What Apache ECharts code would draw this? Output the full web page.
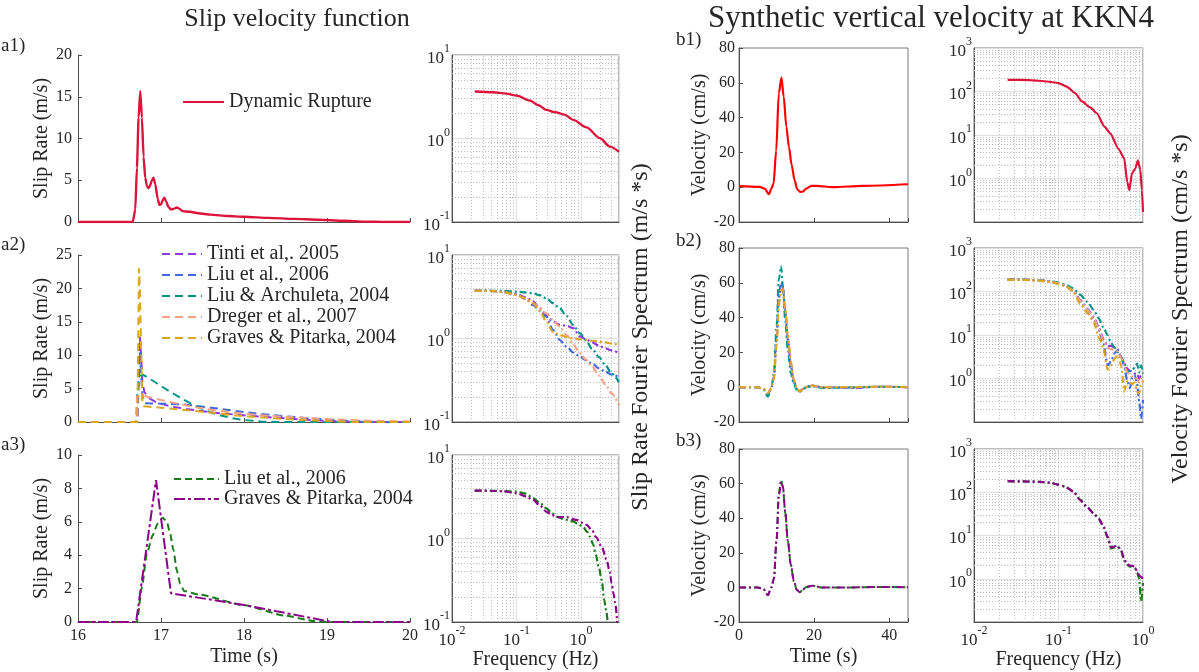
<!DOCTYPE html>
<html><head><meta charset="utf-8">
<script src="https://cdn.jsdelivr.net/npm/echarts@6/dist/echarts.min.js"></script>
<style>html,body{margin:0;padding:0;background:#fff}#c{width:1199px;height:672px}</style>
</head><body><div id="c"></div>
<script>
// ---------------- DATA ----------------
// a1: dynamic rupture slip rate
const a1Time = [16, 16.66, 16.69, 16.71, 16.73, 16.75, 16.77, 16.79, 16.81, 16.83, 16.85, 16.87, 16.89, 16.91, 16.93, 16.96, 16.98, 17.0, 17.02, 17.04, 17.06, 17.09, 17.12, 17.16, 17.19, 17.22, 17.26, 17.3, 17.35, 17.45, 17.6, 17.8, 18.0, 18.3, 18.6, 18.9, 19.2, 19.45, 19.7, 20];
const a1Rate = [0, 0, 1.5, 6.5, 12.5, 15.7, 12.5, 7.8, 5.3, 4.3, 4.05, 4.4, 5.0, 5.3, 4.6, 2.8, 2.05, 2.1, 2.6, 2.9, 2.5, 1.8, 1.5, 1.6, 1.75, 1.6, 1.3, 1.25, 1.22, 1.05, 0.88, 0.72, 0.62, 0.5, 0.38, 0.27, 0.15, 0.05, 0, 0];
const a1Freq = [0.0225, 0.0433, 0.07, 0.1, 0.161, 0.22, 0.292, 0.394, 0.564, 0.76, 1.22, 1.97, 2.82, 3.9];
const a1Spec = [3.65, 3.58, 3.45, 3.27, 2.85, 2.5, 2.2, 2.07, 1.92, 1.67, 1.36, 1.01, 0.80, 0.69];

// a2: kinematic slip-rate functions
const tintiTime = [16, 16.71, 16.725, 16.745, 16.76, 16.775, 16.8, 16.85, 16.95, 17.1, 17.3, 17.6, 17.9, 18.2, 18.5, 18.8, 19.1, 19.4, 20];
const tintiRate = [0, 0, 6, 12.8, 10, 6, 4.5, 3.6, 2.9, 2.4, 1.95, 1.45, 1.1, 0.8, 0.55, 0.3, 0.12, 0.02, 0];
const liuTime = [16, 16.715, 16.73, 16.745, 16.76, 16.78, 16.8, 17.0, 17.3, 17.6, 17.9, 18.2, 18.5, 18.8, 19.1, 19.4, 19.6, 20];
const liuRate = [0, 0, 5, 10.5, 7, 3.5, 2.8, 2.75, 2.6, 2.15, 1.65, 1.2, 0.85, 0.55, 0.3, 0.1, 0, 0];
const laTime = [16, 16.7, 16.715, 16.73, 16.75, 16.78, 16.85, 16.95, 17.1, 17.25, 17.4, 17.55, 17.7, 17.85, 18.0, 18.2, 18.4, 20];
const laRate = [0, 0, 4, 6.3, 6.9, 7.1, 6.6, 5.8, 4.6, 3.5, 2.5, 1.65, 1.05, 0.6, 0.3, 0.08, 0, 0];
const dregerTime = [16, 16.7, 16.71, 16.73, 16.8, 16.9, 17.0, 17.2, 17.4, 17.6, 17.8, 18.0, 18.3, 18.6, 18.9, 19.2, 19.5, 20];
const dregerRate = [0, 0, 3.8, 3.95, 3.9, 3.6, 3.3, 2.75, 2.25, 1.85, 1.5, 1.22, 0.92, 0.72, 0.5, 0.33, 0.2, 0.08];
const gpTime = [16, 16.715, 16.735, 16.745, 16.775, 16.79, 17.0, 17.5, 18.0, 18.5, 19.0, 19.3, 20];
const gpRate = [0, 0, 23, 20, 3, 2.35, 2.15, 1.55, 0.85, 0.45, 0.15, 0, 0];
const a2Freq = [0.0225, 0.04, 0.06, 0.1, 0.14, 0.18, 0.23, 0.29, 0.37, 0.47, 0.6, 0.76, 0.96, 1.2, 1.5, 1.9, 2.4, 3.0, 3.9];
const tintiSpec = [3.75, 3.72, 3.66, 3.42, 3.1, 2.78, 2.3, 1.92, 1.6, 1.46, 1.42, 1.33, 1.06, 0.98, 0.9, 0.82, 0.76, 0.72, 0.67];
const liuSpec = [3.75, 3.72, 3.62, 3.38, 2.95, 2.52, 2.15, 1.83, 1.27, 0.96, 0.8, 0.68, 0.61, 0.55, 0.5, 0.44, 0.4, 0.37, 0.345];
const laSpec = [3.75, 3.74, 3.72, 3.64, 3.56, 3.48, 3.3, 3.03, 2.65, 2.3, 1.85, 1.45, 1.16, 0.95, 0.75, 0.6, 0.48, 0.38, 0.30];
const dregerSpec = [3.75, 3.72, 3.62, 3.33, 3.0, 2.65, 2.3, 2.0, 1.65, 1.39, 1.1, 0.85, 0.67, 0.56, 0.46, 0.36, 0.28, 0.22, 0.158];
const gpSpec = [3.75, 3.72, 3.62, 3.33, 3.0, 2.65, 2.15, 1.6, 1.2, 1.1, 1.04, 1.0, 0.98, 0.96, 0.94, 0.92, 0.9, 0.87, 0.84];

// a3: modified functions
const a3LiuTime = [16, 16.71, 16.77, 16.83, 16.9, 16.96, 17.02, 17.07, 17.11, 17.15, 17.19, 17.23, 17.28, 17.47, 18.0, 18.5, 18.85, 19.0, 20];
const a3LiuRate = [0, 0, 2.1, 4.1, 5.2, 5.9, 6.25, 6.0, 5.3, 4.3, 3.1, 2.3, 1.85, 1.63, 1.0, 0.38, 0.05, 0, 0];
const a3GpTime = [16, 16.70, 16.94, 17.12, 18.0, 19.06, 20];
const a3GpRate = [0, 0, 8.5, 1.72, 1.02, 0, 0];
const a3LiuFreq = [0.0225, 0.04, 0.06, 0.1, 0.14, 0.18, 0.23, 0.29, 0.36, 0.42, 0.53, 0.65, 0.76, 0.9, 1.09, 1.25, 1.38, 1.55, 1.7, 1.9, 2.1, 2.3, 2.45, 2.6];
const a3LiuSpec = [3.75, 3.73, 3.7, 3.64, 3.45, 3.04, 2.7, 2.3, 2.0, 1.83, 1.72, 1.65, 1.6, 1.5, 1.36, 1.2, 1.05, 0.85, 0.64, 0.45, 0.32, 0.185, 0.14, 0.1];
const a3GpFreq = [0.0225, 0.04, 0.06, 0.1, 0.14, 0.18, 0.23, 0.29, 0.36, 0.42, 0.6, 0.85, 1.22, 1.5, 1.7, 2.1, 2.5, 2.8, 3.0, 3.2, 3.4, 3.65];
const a3GpSpec = [3.75, 3.73, 3.68, 3.48, 3.2, 2.9, 2.5, 2.1, 1.9, 1.8, 1.8, 1.67, 1.46, 1.25, 1.05, 0.8, 0.56, 0.4, 0.29, 0.22, 0.17, 0.1];

// b1: synthetic vertical velocity at KKN4 (dynamic rupture)
const b1Time = [0, 5.5, 6.8, 8.0, 8.6, 9.2, 9.9, 10.6, 11.3, 11.9, 12.6, 13.3, 14.0, 14.8, 15.5, 16.3, 17.0, 17.9, 19.3, 20.6, 25, 33, 45];
const b1Vel = [0.6, 0.2, -0.8, -4, -0.8, 2, 21, 54, 63, 52, 35, 23, 13, 4, -1.2, -2.7, -2.5, -0.8, 0.8, 0.8, 0, 0.8, 1.7];
const b1Freq = [0.025, 0.046, 0.073, 0.1, 0.125, 0.157, 0.19, 0.237, 0.284, 0.35, 0.41, 0.51, 0.6, 0.65, 0.69, 0.74, 0.81, 0.87, 0.93, 0.97, 1.0];
const b1Spec = [186, 183, 170, 156, 130, 92, 59, 43, 31.6, 15.6, 10.9, 4.9, 2.9, 0.84, 0.54, 1.3, 1.7, 2.6, 1.55, 0.54, 0.17];

// b2 / b3 velocities
const bTime = [0, 5, 6.5, 7.7, 8.6, 9.3, 10.0, 10.6, 11.2, 11.7, 12.3, 13.0, 13.8, 14.6, 15.4, 16.2, 17.0, 18, 19.5, 22, 30, 38, 45];
const b2TintiVel = [0, 0, -1, -4, -0.5, 6, 28, 52, 60, 57, 43, 27, 12, 3, -1.5, -2.5, -1, 0.3, 1, 0, -0.5, 0.3, 0];
const b2LiuVel = [0, 0, -1, -4, -0.5, 6, 27, 50, 59.5, 57.5, 44, 28, 13, 3.5, -1, -2.5, -1, 0.5, 0.8, 0, -0.3, 0.2, 0];
const b2LaVel = [0, 0, -1.5, -5.5, -0.5, 8, 35, 62, 69.5, 58, 38, 21, 8, 1.5, -1.5, -2.8, -1.5, 0, 0.5, -0.5, 0, 0.3, 0];
const b2DregerVel = [0, 0, -1, -3.5, -0.5, 5, 25, 48, 56, 55.5, 45, 29, 14, 4, -1, -2.5, -1, 0.3, 0.8, 0, 0, 0.2, 0];
const b2GpVel = [0, 0, -1, -3.5, -0.5, 5, 24, 47, 55, 56.5, 46, 30, 15, 4.5, -0.5, -2.5, -1.2, 0.3, 1.0, 0, 0, 0.4, 0];
const b3LiuVel = [0, 0, -1, -4.5, 0, 5, 28, 54, 62, 58, 43, 27, 13, 3.5, -1.5, -2.8, -1.2, 0.3, 1, 0, 0, 0.3, 0];
const b3GpVel = [0, 0, -1, -4.5, 0, 5, 27, 53, 61, 58, 44, 27, 13, 4, -1.5, -2.8, -1.2, 0.3, 1, 0, 0, 0.3, 0];

// b2 / b3 spectra
const bFreq = [0.025, 0.04, 0.06, 0.08, 0.1, 0.12, 0.15, 0.18, 0.22, 0.26, 0.3, 0.34, 0.38, 0.42, 0.46, 0.5, 0.55, 0.6, 0.65, 0.7, 0.75, 0.8, 0.85, 0.9, 0.95, 1.0];
const b2TintiSpec = [188, 186, 180, 170, 155, 138, 108, 64, 40, 26, 15, 8, 5.5, 5.6, 5.2, 4.6, 3.2, 2.2, 1.7, 1.5, 1.4, 1.3, 1.3, 1.0, 1.2, 1.1];
const b2LiuSpec = [188, 186, 180, 170, 155, 138, 105, 62, 38, 24, 13, 6.5, 2.0, 2.5, 3.8, 4.5, 3.2, 1.9, 0.9, 0.6, 1.1, 1.2, 0.8, 0.3, 0.12, 0.32];
const b2LaSpec = [190, 188, 182, 172, 160, 145, 118, 85, 58, 38, 24, 15, 10, 6.5, 5.2, 4.0, 3.1, 2.3, 1.4, 1.5, 1.6, 1.8, 2.2, 1.4, 2.0, 1.3];
const b2DregerSpec = [188, 186, 180, 170, 155, 138, 106, 62, 38, 25, 14, 7.5, 5, 4.8, 4.5, 4.2, 3.0, 2.0, 1.4, 1.2, 1.1, 1.0, 1.0, 0.8, 1.0, 0.9];
const b2GpSpec = [186, 184, 176, 165, 150, 132, 100, 52, 32, 20, 9, 5, 1.6, 2.0, 2.8, 3.5, 2.0, 0.5, 0.9, 0.8, 0.75, 0.8, 0.5, 0.45, 0.7, 0.9];
const b3LiuSpec = [180, 178, 174, 166, 150, 135, 105, 68, 45, 33, 25, 16.5, 9, 5, 5.3, 5.5, 4.5, 2.6, 2.1, 1.9, 2.0, 1.8, 1.4, 1.0, 0.3, 0.8];
const b3GpSpec = [180, 178, 174, 166, 150, 134, 103, 66, 44, 32, 24, 16, 9.5, 5.3, 5.6, 5.8, 4.6, 2.8, 2.2, 2.0, 2.0, 1.9, 1.5, 1.2, 1.1, 1.0];

// names
const nameDR = 'Dynamic Rupture';
const nameTinti = 'Tinti et al,. 2005';
const nameLiu = 'Liu et al., 2006';
const nameLA = 'Liu & Archuleta, 2004';
const nameDreger = 'Dreger et al., 2007';
const nameGP = 'Graves & Pitarka, 2004';

// ---------------- STYLE ----------------
const F = "'Liberation Serif','Times New Roman',Times,serif";
const TXT = '#262626', AX = '#4d4d4d', BOX = '#7a7a7a';
const C = {crimson:'#DC143C', red:'#FF0000', tinti:'#9038E3', liu:'#4169E1', la:'#00958A', dreger:'#F9A281', gp:'#DAA520', green:'#1A7A1A', purple:'#8B008B'};
const DASH = [8, 5], DASHDOT = [7, 3, 2, 3];

function pairs(xs, ys) { return xs.map((x, i) => [x, ys[i]]); }
function minorLog(lo, hi) {
  const out = [];
  for (let e = Math.floor(Math.log10(lo)); e <= Math.ceil(Math.log10(hi)); e++) {
    for (let m = 2; m <= 9; m++) {
      const v = +(m * Math.pow(10, e)).toPrecision(6);
      if (v > lo * 1.0001 && v < hi * 0.9999) out.push(v);
    }
  }
  return out;
}
function powLabel(hideMin) {
  return function (v) {
    const e = Math.round(Math.log10(v));
    if (Math.abs(v / Math.pow(10, e) - 1) > 1e-6) return '';
    if (hideMin !== undefined && v <= hideMin * 1.0001) return '';
    return '{b|10}{s|' + (e < 0 ? '-' + (-e) : e) + '}';
  };
}
const RICH = {
  b: {fontSize: 17, fontFamily: F, color: TXT, lineHeight: 24, verticalAlign: 'bottom'},
  s: {fontSize: 12, fontFamily: F, color: TXT, lineHeight: 10, verticalAlign: 'top'}
};
const labelStyle = {fontSize: 16, fontFamily: F, color: TXT};
const nameStyle = {fontSize: 20, fontFamily: F, color: TXT};

const layout = [
  {l: 78, t: 55, w: 332, h: 167}, {l: 452, t: 55, w: 167, h: 167},
  {l: 78, t: 255, w: 332, h: 167}, {l: 452, t: 255, w: 167, h: 167},
  {l: 78, t: 455, w: 332, h: 167}, {l: 452, t: 455, w: 167, h: 167},
  {l: 739, t: 48, w: 169, h: 174}, {l: 974, t: 48, w: 169, h: 174},
  {l: 739, t: 248, w: 169, h: 174}, {l: 974, t: 248, w: 169, h: 174},
  {l: 739, t: 449, w: 169, h: 173}, {l: 974, t: 449, w: 169, h: 173}
];
const grids = layout.map((g, i) => ({
  left: g.l, top: g.t, width: g.w, height: g.h,
  show: !(i === 0 || i === 2 || i === 4), borderColor: BOX, borderWidth: 1,
  backgroundColor: 'transparent', outerBoundsMode: 'none', containLabel: false
}));

function linAxis(gi, min, max, interval, showLabels, opts) {
  return Object.assign({
    gridIndex: gi, type: 'value', min: min, max: max, interval: interval,
    axisLine: {show: true, onZero: false, lineStyle: {color: AX, width: 1}},
    axisTick: {show: true, inside: true, length: 4, lineStyle: {color: AX}},
    axisLabel: Object.assign({show: showLabels, margin: 6, formatter: function (v) {
      const k = v / interval; return Math.abs(k - Math.round(k)) < 1e-9 ? String(v) : ''; }}, labelStyle),
    splitLine: {show: false},
    nameLocation: 'middle', nameTextStyle: nameStyle
  }, opts || {});
}
function logAxis(gi, min, max, showLabels, hideMin, margin, opts) {
  return Object.assign({
    gridIndex: gi, type: 'log', logBase: 10, min: min, max: max,
    axisLine: {show: true, onZero: false, lineStyle: {color: AX, width: 1}},
    axisTick: {show: false},
    axisLabel: {show: showLabels, margin: margin, formatter: powLabel(hideMin), rich: RICH},
    splitLine: {show: true, lineStyle: {color: '#e0e0e0', width: 1}},
    minorTick: {show: false}, minorSplitLine: {show: false},
    nameLocation: 'middle', nameTextStyle: nameStyle
  }, opts || {});
}

const xAxes = [
  linAxis(0, 16, 20, 1, false),
  logAxis(1, 0.01, 3.9, false, undefined, 3),
  linAxis(2, 16, 20, 1, false),
  logAxis(3, 0.01, 3.9, false, undefined, 3),
  linAxis(4, 16, 20, 1, true, {name: 'Time (s)', nameGap: 25}),
  logAxis(5, 0.01, 3.9, true, undefined, 3, {name: 'Frequency (Hz)', nameGap: 26}),
  linAxis(6, 0, 45, 20, false),
  logAxis(7, 0.01, 1, false, undefined, 3),
  linAxis(8, 0, 45, 20, false),
  logAxis(9, 0.01, 1, false, undefined, 3),
  linAxis(10, 0, 45, 20, true, {name: 'Time (s)', nameGap: 25}),
  logAxis(11, 0.01, 1, true, undefined, 3, {name: 'Frequency (Hz)', nameGap: 26})
];
const yAxes = [
  linAxis(0, 0, 20, 5, true, {name: 'Slip Rate (m/s)', nameGap: 22}),
  logAxis(1, 0.1, 10, true, undefined, 2),
  linAxis(2, 0, 25, 5, true, {name: 'Slip Rate (m/s)', nameGap: 22}),
  logAxis(3, 0.1, 10, true, undefined, 2),
  linAxis(4, 0, 10, 2, true, {name: 'Slip Rate (m/s)', nameGap: 22}),
  logAxis(5, 0.1, 10, true, undefined, 2),
  linAxis(6, -20, 80, 20, true, {name: 'Velocity (cm/s)', nameGap: 20, axisLabel: Object.assign({margin: 4}, labelStyle)}),
  logAxis(7, 0.1, 1000, true, 0.1, 2),
  linAxis(8, -20, 80, 20, true, {name: 'Velocity (cm/s)', nameGap: 20, axisLabel: Object.assign({margin: 4}, labelStyle)}),
  logAxis(9, 0.1, 1000, true, 0.1, 2),
  linAxis(10, -20, 80, 20, true, {name: 'Velocity (cm/s)', nameGap: 20, axisLabel: Object.assign({margin: 4}, labelStyle)}),
  logAxis(11, 0.1, 1000, true, 0.1, 2)
];

function line(name, gi, xs, ys, color, width, dash, smooth) {
  return {
    type: 'line', name: name, xAxisIndex: gi, yAxisIndex: gi, data: pairs(xs, ys),
    symbol: 'none', smooth: smooth || false, smoothMonotone: 'x',
    lineStyle: {color: color, width: width, type: dash || 'solid'},
    itemStyle: {color: color}, z: 3, animation: false, silent: true
  };
}
function withGrid(s, xr, yr) {
  s.markLine = {
    silent: true, symbol: ['none', 'none'], label: {show: false}, z: 1, animation: false,
    lineStyle: {type: [1, 2], color: '#bdbdbd', width: 1},
    data: minorLog(xr[0], xr[1]).map(v => ({xAxis: v})).concat(minorLog(yr[0], yr[1]).map(v => ({yAxis: v})))
  };
  return s;
}

const series = [
  // a1
  line(nameDR + '#a1', 0, a1Time, a1Rate, C.crimson, 2.4, 'solid', 0.2),
  withGrid(line(nameDR + '#a1s', 1, a1Freq, a1Spec, C.crimson, 2.4, 'solid', 0.3), [0.01, 3.9], [0.1, 10]),
  // a2
  line(nameTinti + '#a2', 2, tintiTime, tintiRate, C.tinti, 2, DASH),
  line(nameLiu + '#a2', 2, liuTime, liuRate, C.liu, 2, DASH),
  line(nameLA + '#a2', 2, laTime, laRate, C.la, 2, DASH),
  line(nameDreger + '#a2', 2, dregerTime, dregerRate, C.dreger, 2, DASH),
  line(nameGP + '#a2', 2, gpTime, gpRate, C.gp, 2, DASH),
  withGrid(line(nameTinti + '#a2s', 3, a2Freq, tintiSpec, C.tinti, 2.2, DASHDOT, 0.3), [0.01, 3.9], [0.1, 10]),
  line(nameLiu + '#a2s', 3, a2Freq, liuSpec, C.liu, 2.2, DASHDOT, 0.3),
  line(nameLA + '#a2s', 3, a2Freq, laSpec, C.la, 2.2, DASHDOT, 0.3),
  line(nameDreger + '#a2s', 3, a2Freq, dregerSpec, C.dreger, 2.2, DASHDOT, 0.3),
  line(nameGP + '#a2s', 3, a2Freq, gpSpec, C.gp, 2.2, DASHDOT, 0.3),
  // a3
  line(nameLiu + '#a3', 4, a3LiuTime, a3LiuRate, C.green, 2, [7, 4], 0.2),
  line(nameGP + '#a3', 4, a3GpTime, a3GpRate, C.purple, 2, [11, 3, 3, 3]),
  withGrid(line(nameLiu + '#a3s', 5, a3LiuFreq, a3LiuSpec, C.green, 2.2, DASHDOT, 0.3), [0.01, 3.9], [0.1, 10]),
  line(nameGP + '#a3s', 5, a3GpFreq, a3GpSpec, C.purple, 2.2, DASHDOT, 0.3),
  // b1
  line(nameDR + '#b1', 6, b1Time, b1Vel, C.red, 2.2, 'solid', 0.3),
  withGrid(line(nameDR + '#b1s', 7, b1Freq, b1Spec, C.crimson, 2.2, 'solid', 0.2), [0.01, 1], [0.1, 1000]),
  // b2
  line(nameTinti + '#b2', 8, bTime, b2TintiVel, C.tinti, 2, DASHDOT, 0.3),
  line(nameLiu + '#b2', 8, bTime, b2LiuVel, C.liu, 2, DASHDOT, 0.3),
  line(nameLA + '#b2', 8, bTime, b2LaVel, C.la, 2, DASHDOT, 0.3),
  line(nameDreger + '#b2', 8, bTime, b2DregerVel, C.dreger, 2, DASHDOT, 0.3),
  line(nameGP + '#b2', 8, bTime, b2GpVel, C.gp, 2, DASHDOT, 0.3),
  withGrid(line(nameTinti + '#b2s', 9, bFreq, b2TintiSpec, C.tinti, 2.2, DASHDOT, 0.2), [0.01, 1], [0.1, 1000]),
  line(nameLiu + '#b2s', 9, bFreq, b2LiuSpec, C.liu, 2.2, DASHDOT, 0.2),
  line(nameLA + '#b2s', 9, bFreq, b2LaSpec, C.la, 2.2, DASHDOT, 0.2),
  line(nameDreger + '#b2s', 9, bFreq, b2DregerSpec, C.dreger, 2.2, DASHDOT, 0.2),
  line(nameGP + '#b2s', 9, bFreq, b2GpSpec, C.gp, 2.2, DASHDOT, 0.2),
  // b3
  line(nameLiu + '#b3', 10, bTime, b3LiuVel, C.green, 2, DASHDOT, 0.3),
  line(nameGP + '#b3', 10, bTime, b3GpVel, C.purple, 2, DASHDOT, 0.3),
  withGrid(line(nameLiu + '#b3s', 11, bFreq, b3LiuSpec, C.green, 2.2, DASHDOT, 0.2), [0.01, 1], [0.1, 1000]),
  line(nameGP + '#b3s', 11, bFreq, b3GpSpec, C.purple, 2.2, DASHDOT, 0.2)
];

const legendBase = {
  orient: 'vertical', padding: 0, itemHeight: 14, selectedMode: false,
  itemStyle: {opacity: 0, color: 'transparent', borderWidth: 0},
  formatter: function (n) { return n.split('#')[0]; },
  textStyle: {fontSize: 20, fontFamily: F, color: TXT, lineHeight: 20}
};
const legends = [
  Object.assign({}, legendBase, {data: [nameDR + '#a1'], left: 182, top: 92, itemWidth: 41}),
  Object.assign({}, legendBase, {data: [nameTinti + '#a2', nameLiu + '#a2', nameLA + '#a2', nameDreger + '#a2', nameGP + '#a2'], left: 161, top: 244, itemWidth: 40, itemGap: 1}),
  Object.assign({}, legendBase, {data: [nameLiu + '#a3', nameGP + '#a3'], left: 173, top: 469, itemWidth: 45, itemGap: 0, textStyle: {fontSize: 20, fontFamily: F, color: TXT, lineHeight: 19}})
];

function txt(text, x, y, size, align, rot) {
  return {type: 'text', x: x, y: y, rotation: rot || 0, silent: true,
    style: {text: text, fontSize: size, fontFamily: F, fill: TXT, align: align, textAlign: align, verticalAlign: 'middle', textVerticalAlign: 'middle'}};
}
const graphic = [
  txt('Slip velocity function', 297, 19, 26, 'center'),
  txt('Synthetic vertical velocity at KKN4', 931, 19, 31, 'center'),
  txt('a1)', 1, 46, 19, 'left'), txt('a2)', 1, 245, 19, 'left'), txt('a3)', 1, 445, 19, 'left'),
  txt('b1)', 676, 40, 19, 'left'), txt('b2)', 676, 241, 19, 'left'), txt('b3)', 676, 441, 19, 'left'),
  txt('Slip Rate Fourier Spectrum (m/s *s)', 641, 337, 24, 'center', Math.PI / 2),
  txt('Velocity Fourier Spectrum (cm/s *s)', 1181, 309, 24, 'center', Math.PI / 2)
];

const chart = echarts.init(document.getElementById('c'), null, {renderer: 'canvas'});
chart.setOption({
  animation: false,
  backgroundColor: '#ffffff',
  textStyle: {fontFamily: F},
  grid: grids, xAxis: xAxes, yAxis: yAxes,
  legend: legends, series: series, graphic: graphic
});
</script></body></html>
